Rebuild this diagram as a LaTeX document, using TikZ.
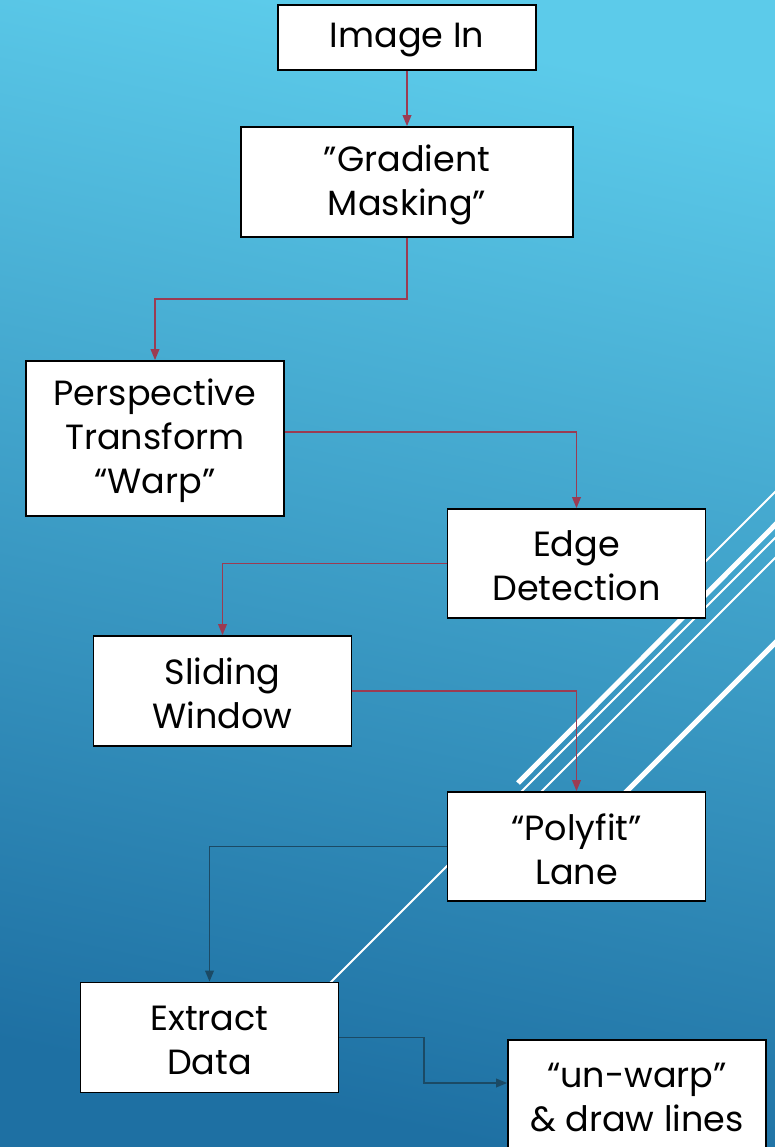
\documentclass[tikz,border=0pt]{standalone}
\usepackage{fontspec}
\setmainfont{Poppins}
\usetikzlibrary{arrows.meta}
\definecolor{bgtop}{HTML}{5CCBEA}
\definecolor{bgbot}{HTML}{1E70A3}
\definecolor{linkred}{HTML}{9B3B52}
\definecolor{linknavy}{HTML}{1B4A65}
\tikzset{
  stepbox/.style={draw=black, line width=1.6pt, fill=white, minimum width=258pt,
    minimum height=110pt, inner sep=0pt},
  steptext/.style={font=\fontsize{35}{44}\selectfont, align=center, inner sep=0pt, yshift=-2.5pt},
  redlink/.style={draw=linkred, line width=1.8pt, -{Triangle[length=11pt,width=8.5pt]}},
  navylink/.style={draw=linknavy, line width=1.8pt, -{Triangle[length=11pt,width=8.5pt]}},
  thinstripe/.style={draw=white, line width=1.8pt},
  thickstripe/.style={draw=white, line width=5pt},
}
\begin{document}
\begin{tikzpicture}[x=1pt,y=-1pt]
\useasboundingbox (0,0) rectangle (775,1147);
\clip (0,0) rectangle (775,1147);
\shade[top color=bgtop, bottom color=bgbot, shading angle=-12] (0,0) rectangle (775,1147);
% decorative stripes
\draw[thinstripe]  (777,490) -- (690,577);
\draw[thickstripe] (777,523) -- (518,783);
\draw[thinstripe]  (777,536) -- (250,1063);
\draw[thinstripe]  (777,556) -- (520,813);
\draw[thickstripe] (777,641) -- (600,818);
% boxes
\node[stepbox, minimum height=65pt, label={[steptext]center:Image In}] (img) at (407,37.5) {};
\node[stepbox, minimum width=332pt, label={[steptext]center:”Gradient\\Masking”}] (grad) at (407,182) {};
\node[stepbox, minimum height=155pt, label={[steptext]center:Perspective\\Transform\\“Warp”}] (persp) at (155,438.5) {};
\node[stepbox, minimum height=109pt, label={[steptext]center:Edge\\Detection}] (edge) at (576.5,563.5) {};
\node[stepbox, label={[steptext]center:Sliding\\Window}] (slide) at (222.5,691) {};
\node[stepbox, minimum height=109pt, label={[steptext]center:“Polyfit”\\Lane}] (poly) at (576.5,846.5) {};
\node[stepbox, label={[steptext]center:Extract\\Data}] (extract) at (209.5,1037.5) {};
\node[stepbox, minimum height=114pt, label={[steptext,yshift=2.5pt]center:“un-warp”\\\& draw lines}] (unwarp) at (637,1097) {};
% connectors
\draw[redlink] (img.south) -- (grad.north);
\draw[redlink] (grad.south) -- ++(0,61) -| (persp.north);
\draw[redlink] ([yshift=6.5pt]persp.east) -| (edge.north);
\draw[redlink] (edge.west) -| (slide.north);
\draw[redlink] (slide.east) -| (poly.north);
\draw[navylink] (poly.west) -| (extract.north);
\draw[navylink] (extract.east) -- ++(85,0) |- ([yshift=14pt]unwarp.west);
\end{tikzpicture}
\end{document}
